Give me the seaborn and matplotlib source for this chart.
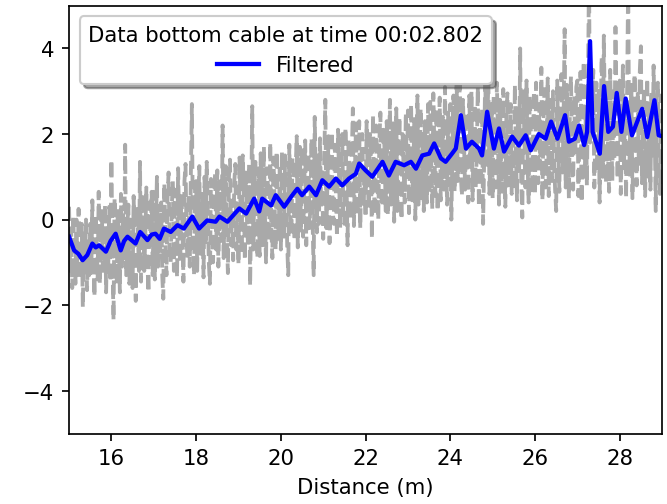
import numpy as np
import pandas as pd
import seaborn as sns
import matplotlib
matplotlib.use("Agg")
import matplotlib.pyplot as plt

# Raw distributed sensing trace (0.025 m steps from 15 to 29 m)
raw_data = [
    # 15.0 - 15.5
    0.3, -1.2, -0.2, -1.6, 0.1, -0.9, -1.5, 0.0, -1.3, 0.25,
    -0.6, -1.4, -0.1, -2.05, -0.4, -1.1, 0.0, -1.65, -0.5, -1.3,
    -0.1, -1.25, 0.45, -0.9, -1.8, 0.1, -0.5, -1.4, 0.65, -1.5,
    -0.3, 0.2, -1.2, -0.7, 0.35, -1.7, -0.2, -1.1, 0.3, -1.45,
    # 16.0
    1.4, -0.9, -2.35, 0.5, -1.0, -1.5, 0.2, -0.4, -1.7, 0.6,
    -1.1, 0.1, -0.9, 1.75, -1.3, -0.2, 0.35, -1.5, 0.0, -0.8,
    -1.6, 0.55, -0.7, -1.9, 0.3, -0.3, -1.2, 1.35, -1.45, 0.1,
    0.6, -1.2, -0.4, 0.75, -1.0, -1.7, 0.4, -0.6, 0.65, -1.3,
    # 17.0
    0.65, -1.4, -0.2, 1.0, -1.1, 0.2, -0.8, 0.4, -1.3, -1.85,
    0.85, -0.5, -1.3, 0.5, 1.1, -0.7, -1.0, 0.3, 0.9, -1.2,
    0.7, -0.6, -1.35, 1.2, -0.2, -1.0, 0.55, 0.0, -1.45, 0.9,
    1.3, -0.5, -0.9, 0.6, -1.1, 1.0, 2.7, -0.4, -1.3, 0.75,
    # 18.0
    0.9, -1.2, 0.3, 1.25, -0.8, -0.3, 0.6, -1.35, 1.0, -0.6,
    1.35, 0.2, -1.0, -1.5, 0.95, -0.2, -1.0, 0.7, 1.1, -0.7,
    1.15, -1.1, 0.3, 0.9, -0.5, 2.2, -0.9, 0.6, 1.25, -0.3,
    -1.25, 1.0, 1.4, -0.6, 0.2, -0.95, 0.85, 1.3, -0.7, 0.4,
    # 19.0
    -1.05, 1.45, 0.1, -0.8, 1.5, 0.6, -0.95, 1.1, 0.0, -0.6,
    1.3, -1.55, 0.4, 2.65, -0.7, 0.9, 1.35, -0.3, -0.9, 1.2,
    -0.85, 1.55, 0.3, -0.6, 1.7, 0.1, -1.0, 1.2, 0.7, -0.5,
    1.8, -0.2, -0.9, 1.45, 0.5, -0.7, 1.6, 0.2, -0.45, 1.3,
    # 20.0
    -0.7, 1.6, 0.4, -0.4, 1.5, 0.9, -0.6, -1.3, 1.75, 0.2,
    -0.35, 1.45, 0.8, -0.5, 1.2, 1.95, -0.65, 0.6, 1.7, -0.3,
    1.7, -0.4, 0.6, 1.85, -0.6, 1.1, 1.55, -0.2, 0.4, 1.9,
    0.0, -1.3, 2.4, 0.9, -0.3, 1.5, -0.1, 1.9, 0.3, 1.2,
    # 21.0
    -0.45, 1.4, 2.8, -0.2, 0.8, 1.95, -0.55, 1.2, 2.05, 0.2,
    -0.1, 1.75, 0.6, -0.4, 2.1, 1.0, -0.2, 1.6, 2.0, 0.1,
    -0.1, 2.15, 0.9, -0.6, 1.9, 0.4, 0.0, 1.5, 2.6, -0.15,
    1.2, 2.25, 0.1, 0.7, 2.3, -0.2, 1.4, 2.0, 0.3, 1.1,
    # 22.0
    0.05, 2.3, 1.0, 0.25, 2.0, 1.5, -0.45, 2.45, 0.6, 0.1,
    2.2, 1.3, 0.0, 1.8, 2.5, 0.5, 0.3, 2.1, 1.6, 0.2,
    2.3, 0.1, 1.2, 2.8, 0.35, 1.7, 2.25, -0.05, 0.9, 2.6,
    0.2, 1.5, 2.4, 0.6, 0.0, 2.0, 1.1, 0.4, 2.5, 1.0,
    # 23.0
    2.55, 0.15, 1.4, 2.7, 0.45, 1.0, 2.35, 0.0, 1.7, 2.9,
    0.35, 1.2, 2.6, 0.5, 2.0, 0.2, 2.3, 1.5, 0.4, 2.7,
    0.6, 2.75, 1.3, 0.25, 2.95, 1.6, 0.55, 2.6, 0.2, 1.8,
    2.85, 0.45, 1.1, 2.4, 0.7, 3.1, 1.5, 0.35, 2.5, 1.0,
    # 24.0
    2.7, 0.0, 1.6, 2.9, 0.65, 2.2, 3.3, 0.9, 1.4, 3.4,
    1.0, 0.55, 2.8, 1.7, 0.7, 2.5, 1.2, 0.4, 2.9, 1.5,
    3.0, 0.45, 1.9, 2.7, 0.75, 1.5, 3.1, 0.3, 2.2, 1.0,
    2.6, -0.1, 1.4, 3.5, 1.2, 2.4, 3.2, 0.6, 1.8, 2.7,
    # 25.0
    0.5, 2.9, 1.4, 0.75, 3.2, 2.0, 0.35, 2.8, 1.2, 0.65,
    3.05, 1.7, 0.3, 2.5, 2.95, 0.8, 1.6, 2.7, 0.6, 2.1,
    0.7, 3.15, 1.5, 0.45, 2.6, 1.2, 4.0, 0.9, 0.05, 3.0,
    1.9, 0.75, 3.25, 1.3, 0.4, 2.9, 2.2, 0.6, 1.7, 3.0,
    # 26.0
    0.6, 3.2, 1.8, 0.85, 2.7, 1.2, 3.55, 0.45, 2.3, 3.05,
    0.75, 1.6, 3.3, 0.55, 2.0, 2.8, 0.9, 3.0, 1.4, 0.7,
    0.2, 3.25, 1.6, 0.65, 2.9, 3.4, 1.1, 2.4, 4.45, 0.75,
    3.15, 1.8, 0.5, 2.7, 3.35, 1.2, 0.7, 2.9, 1.5, 3.1,
    # 27.0
    3.25, 0.55, 2.2, 3.45, 0.4, 1.7, 3.7, 1.0, 2.6, 0.8,
    3.0, 5.8, 1.8, 3.1, 2.2, 3.5, 0.75, 1.9, 3.2, 1.1,
    3.05, 0.4, 2.5, 3.8, 1.0, 4.3, 2.4, 0.85, 3.25, 1.5,
    0.65, 3.5, 2.1, 0.9, 3.0, 1.4, 4.5, 2.6, 0.95, 2.9,
    # 28.0
    3.25, 0.6, 1.9, 3.6, 1.2, 2.8, 0.5, 3.0, 5.6, 1.05,
    2.3, 3.15, 0.5, 1.7, 3.4, 2.2, 0.8, 3.0, 1.3, 3.5,
    4.05, 0.85, 2.4, 3.05, 0.55, 1.8, 3.3, 1.0, 2.6, 0.7,
    3.0, 1.5, 3.6, 2.2, 0.2, 2.8, 3.2, 1.1, 0.6, 2.9,
    # 29.0
    2.6,
]
raw_dist = np.linspace(15, 29, len(raw_data))

# Filtered trace
filt_dist = [
    15.0, 15.12, 15.22, 15.32, 15.43, 15.55, 15.63, 15.71, 15.87, 15.98,
    16.10, 16.22, 16.30, 16.38, 16.57, 16.68, 16.85, 16.95, 17.04, 17.14,
    17.24, 17.40, 17.56, 17.71, 17.91, 18.07, 18.26, 18.46, 18.55, 18.74,
    19.02, 19.18, 19.37, 19.49, 19.56, 19.77, 19.88, 20.08, 20.27, 20.39,
    20.50, 20.67, 20.83, 20.98, 21.14, 21.30, 21.45, 21.61, 21.77, 21.85,
    22.0, 22.16, 22.4, 22.55, 22.71, 22.91, 23.07, 23.19, 23.34, 23.5,
    23.62, 23.78, 23.89, 24.04, 24.13, 24.25, 24.37, 24.51, 24.68, 24.75,
    24.87, 25.03, 25.15, 25.27, 25.46, 25.62, 25.78, 25.9, 26.09, 26.25,
    26.38, 26.53, 26.71, 26.8, 26.94, 27.04, 27.16, 27.23, 27.30, 27.36,
    27.53, 27.63, 27.73, 27.84, 27.93, 28.04, 28.14, 28.29, 28.53, 28.65,
    28.82, 28.92, 29.0,
]
filt_vals = [
    -0.4, -0.72, -0.8, -0.95, -0.83, -0.56, -0.65, -0.6, -0.75, -0.5,
    -0.33, -0.72, -0.5, -0.4, -0.56, -0.29, -0.48, -0.35, -0.33, -0.45,
    -0.21, -0.29, -0.13, -0.21, 0.07, -0.21, -0.02, -0.05, 0.07, -0.05,
    0.26, 0.14, 0.49, 0.19, 0.49, 0.33, 0.57, 0.3, 0.57, 0.72,
    0.57, 0.77, 0.57, 0.92, 0.77, 0.96, 0.8, 0.96, 1.07, 1.31,
    1.15, 1.0, 1.35, 1.03, 1.35, 1.27, 1.35, 1.19, 1.5, 1.54,
    1.78, 1.43, 1.35, 1.54, 1.66, 2.44, 1.66, 1.82, 1.66, 1.5,
    2.52, 1.66, 2.13, 1.59, 1.94, 1.73, 1.97, 1.62, 2.0, 1.89,
    2.29, 1.89, 2.44, 1.82, 1.89, 2.2, 1.74, 2.05, 4.17, 2.05,
    1.54, 3.12, 2.05, 2.17, 2.96, 2.05, 2.83, 1.97, 2.59, 1.93,
    2.79, 1.97, 1.95,
]

time_label = "00:02.802"

# small figure at high dpi -> larger text and lines like the original
fig, ax = plt.subplots(figsize=(4.36, 3.30), dpi=153)
fig.subplots_adjust(left=0.1035, right=0.9925, top=0.987, bottom=0.1396)

sns.lineplot(x=raw_dist, y=raw_data, ax=ax, color="darkgray", linestyle="--",
             linewidth=1.8, estimator=None, sort=False)
sns.lineplot(x=filt_dist, y=filt_vals, ax=ax, color="blue", linewidth=2,
             estimator=None, sort=False, label="Filtered")

ax.set_xlim(15, 29)
ax.set_ylim(-5, 5)
ax.set_xlabel("Distance (m)")
ax.set_ylabel("")
ax.legend(title=f"Data bottom cable at time {time_label}", loc="upper left",
          shadow=True)

plt.savefig("out.png", dpi=153)
